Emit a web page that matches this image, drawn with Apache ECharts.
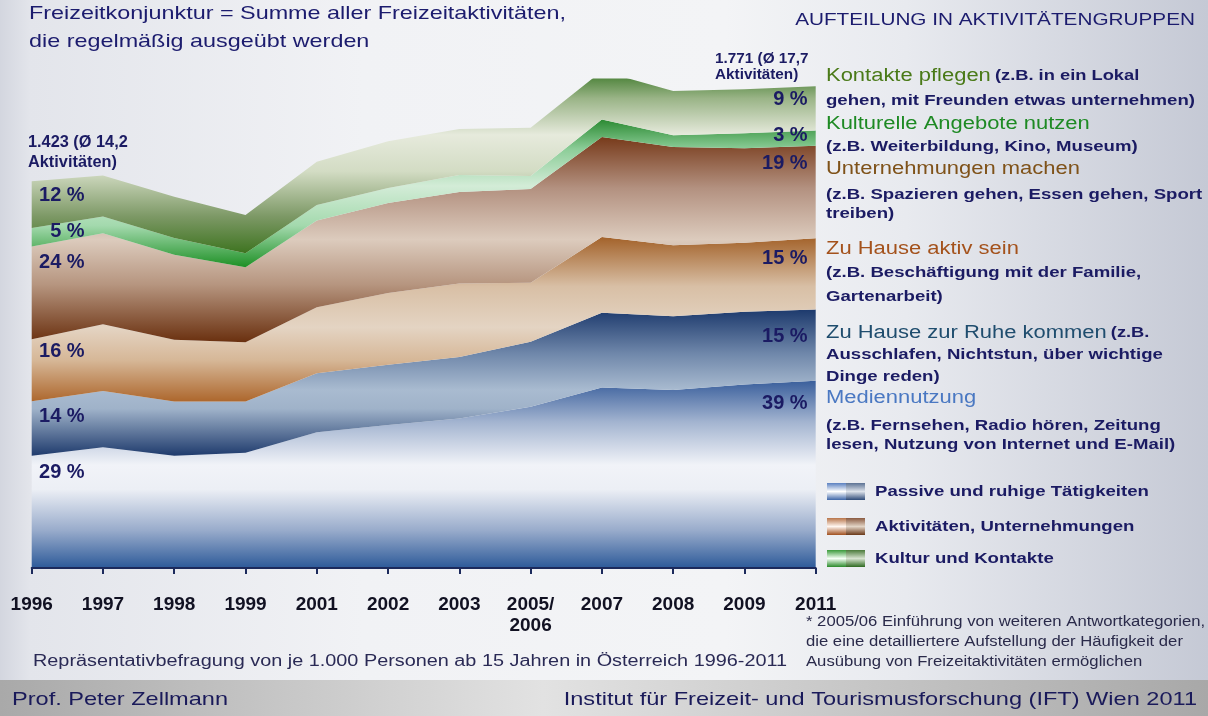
<!DOCTYPE html>
<html><head><meta charset="utf-8">
<script src="https://cdn.jsdelivr.net/npm/echarts@6/dist/echarts.min.js"></script>
<style>html,body{margin:0;padding:0;background:#fff}#c{width:1208px;height:716px}</style>
</head><body><div id="c"></div>
<script>
// ---- data (sum of activities per 100 persons, stacked) ----
const years = ['1996','1997','1998','1999','2001','2002','2003','2005/\n2006','2007','2008','2009','2011'];
const medien   = [413, 444, 413, 424, 499, 526, 550, 593, 664, 654, 675, 688];
const ruhe     = [200, 207, 199, 188, 217, 221, 226, 239, 274, 272, 267, 262];
const aktiv    = [228, 245, 227, 218, 243, 264, 270, 217, 279, 261, 254, 262];
const untern   = [341, 335, 313, 276, 319, 331, 336, 344, 368, 361, 347, 340];
const kultur   = [68, 61, 61, 51, 57, 55, 63, 48, 64, 43, 55, 56];
const kontakte = [172, 151, 152, 141, 159, 172, 169, 178, 178, 163, 162, 163];
const seriesNames = ['Mediennutzung','Zu Hause zur Ruhe kommen','Zu Hause aktiv sein','Unternehmungen machen','Kulturelle Angebote nutzen','Kontakte pflegen'];
const pct1996 = ['29 %','14 %','16 %','24 %','5 %','12 %'];
const pct2011 = ['39 %','15 %','15 %','19 %','3 %','9 %'];
const totalStart = '1.423 (Ø 14,2';
const totalEnd = '1.771 (Ø 17,7';

const FONT = '"Liberation Sans", Arial, sans-serif';
const NAVY = '#1b1b63';
const chart = echarts.init(document.getElementById('c'), null, {renderer:'canvas'});
const G = (stops) => new echarts.graphic.LinearGradient(0,0,0,1, stops.map((c)=>({offset:c[0], color:c[1]})));

const styles = [
  {grad:[[0,'#3a5f9c'],[0.22,'#a3b4d0'],[0.45,'#f1f3f8'],[0.58,'#eceff5'],[0.8,'#98abcb'],[1,'#2d5a99']], lo:[53,17], ro:[-8,23]},
  {grad:[[0,'#1d3a6d'],[0.3,'#6f87aa'],[0.55,'#a9bbd0'],[0.68,'#9fb2c9'],[1,'#1f3b6d']], lo:[53,15], ro:[-8,27]},
  {grad:[[0,'#a3622a'],[0.3,'#d8bfa5'],[0.55,'#e4d4c3'],[0.75,'#d6b797'],[1,'#ad672d']], lo:[53,12], ro:[-8,20]},
  {grad:[[0,'#773a1a'],[0.25,'#b39180'],[0.5,'#dccbbd'],[0.72,'#b6957f'],[1,'#6a300f']], lo:[53,16], ro:[-8,18]},
  {grad:[[0,'#2b8a32'],[0.2,'#8ccd98'],[0.45,'#d3ecd7'],[0.72,'#a3d9ad'],[1,'#1e9025']], lo:[53,4], ro:[-8,5]},
  {grad:[[0,'#3c7829'],[0.15,'#9ab487'],[0.35,'#e6eadc'],[0.55,'#d3dcc4'],[0.8,'#7c9865'],[1,'#3e7420']], lo:[53,14.5], ro:[-8,13]}
];
const dataSets = [medien, ruhe, aktiv, untern, kultur, kontakte];
const labelBase = {show:true, fontFamily:FONT, fontSize:20, fontWeight:'bold', color:NAVY, verticalAlign:'middle', align:'right'};

const series = dataSets.map((arr, s) => ({
  name: seriesNames[s], type:'line', stack:'total', smooth:false,
  symbol:'circle', symbolSize:0.1, showSymbol:true, showAllSymbol:true,
  itemStyle:{color:'rgba(0,0,0,0)'},
  lineStyle:{width:0},
  areaStyle:{color:G(styles[s].grad), opacity:1},
  emphasis:{disabled:true},
  data: arr.map((v,i) => {
    if (i === 0) return {value:v, label:Object.assign({}, labelBase, {formatter:pct1996[s], position:styles[s].lo})};
    if (i === arr.length-1) return {value:v, label:Object.assign({}, labelBase, {formatter:pct2011[s], position:styles[s].ro})};
    return v;
  }),
  z: 2
}));

function txt(x, y, text, font, fill, align, sx){
  return {type:'text', x:x, y:y, scaleX:sx||1, silent:true, z:10,
    style:{text:text, font:font, fill:fill, align:align||'left', verticalAlign:'middle'}};
}
const SX = 1.22;
function rich(x, y, text){
  return {type:'text', x:x, y:y, scaleX:SX, silent:true, z:10, style:{text:text, align:'left', verticalAlign:'middle',
    rich:{
      ko:{fontFamily:FONT, fontSize:18, fill:'#4a7a18'},
      ku:{fontFamily:FONT, fontSize:18, fill:'#1e8a24'},
      un:{fontFamily:FONT, fontSize:18, fill:'#7f5219'},
      ak:{fontFamily:FONT, fontSize:18, fill:'#a4521c'},
      ru:{fontFamily:FONT, fontSize:18, fill:'#1f4d6e'},
      me:{fontFamily:FONT, fontSize:18, fill:'#4a78c2'},
      d:{fontFamily:FONT, fontSize:15, fontWeight:'bold', fill:NAVY}
    }}};
}
function icon(x, y, l, r){
  return [
    {type:'rect', silent:true, z:10, shape:{x:x, y:y, width:19, height:17}, style:{fill:G(l)}},
    {type:'rect', silent:true, z:10, shape:{x:x+19, y:y, width:19, height:17}, style:{fill:G(r)}}
  ];
}
const D = 'bold 15px ' + FONT;
const d = (x, y, t) => txt(x, y, t, D, NAVY, 'left', 1.24);
const graphics = [
  {type:'rect', silent:true, z:-10, shape:{x:0,y:0,width:1208,height:716},
    style:{fill:new echarts.graphic.LinearGradient(0,0,1,0,[
      {offset:0,color:'#d3d6df'},{offset:0.025,color:'#e3e5eb'},{offset:0.3,color:'#f1f2f5'},
      {offset:0.6,color:'#f3f4f6'},{offset:0.75,color:'#e8eaef'},{offset:1,color:'#c5c9d5'}])}},
  {type:'rect', silent:true, z:-9, shape:{x:0,y:680,width:1208,height:36},
    style:{fill:new echarts.graphic.LinearGradient(0,0,1,0,[
      {offset:0,color:'#a9a9a9'},{offset:0.45,color:'#e2e2e2'},{offset:1,color:'#a8a8a8'}])}},
  txt(29, 14, 'Freizeitkonjunktur = Summe aller Freizeitaktivitäten,', '19px '+FONT, '#1c1c6e', 'left', 1.23),
  txt(29, 42, 'die regelmäßig ausgeübt werden', '19px '+FONT, '#1c1c6e', 'left', 1.23),
  txt(1195, 20, 'AUFTEILUNG IN AKTIVITÄTENGRUPPEN', '17px '+FONT, '#1c1c6e', 'right', 1.22),
  txt(28, 143, totalStart, 'bold 16px '+FONT, NAVY, 'left', 1.02),
  txt(28, 163, 'Aktivitäten)', 'bold 16px '+FONT, NAVY, 'left', 1.02),
  txt(715, 59, totalEnd, 'bold 15px '+FONT, NAVY, 'left', 1.02),
  txt(715, 75, 'Aktivitäten)', 'bold 15px '+FONT, NAVY, 'left', 1.02),
  rich(826, 76, '{ko|Kontakte pflegen} {d|(z.B. in ein Lokal}'),
  d(826, 101, 'gehen, mit Freunden etwas unternehmen)'),
  rich(826, 124, '{ku|Kulturelle Angebote nutzen}'),
  d(826, 147, '(z.B. Weiterbildung, Kino, Museum)'),
  rich(826, 169, '{un|Unternehmungen machen}'),
  d(826, 195, '(z.B. Spazieren gehen, Essen gehen, Sport'),
  d(826, 214, 'treiben)'),
  rich(826, 249, '{ak|Zu Hause aktiv sein}'),
  d(826, 273, '(z.B. Beschäftigung mit der Familie,'),
  d(826, 297, 'Gartenarbeit)'),
  rich(826, 333, '{ru|Zu Hause zur Ruhe kommen} {d|(z.B.}'),
  d(826, 355, 'Ausschlafen, Nichtstun, über wichtige'),
  d(826, 377, 'Dinge reden)'),
  rich(826, 398, '{me|Mediennutzung}'),
  d(826, 426, '(z.B. Fernsehen, Radio hören, Zeitung'),
  d(826, 445, 'lesen, Nutzung von Internet und E-Mail)'),
  ...icon(827, 483, [[0,'#5a80c0'],[0.5,'#ffffff'],[1,'#3e66a8']], [[0,'#5c7294'],[0.5,'#dde2ea'],[1,'#2e4a78']]),
  ...icon(827, 518, [[0,'#b8754a'],[0.5,'#fff6f0'],[1,'#a0501f']], [[0,'#8a5a40'],[0.5,'#e2d4c6'],[1,'#6a3818']]),
  ...icon(827, 550, [[0,'#3a9a3a'],[0.5,'#f4fff4'],[1,'#2a8a2a']], [[0,'#4a7a3a'],[0.5,'#d6e2cf'],[1,'#2e6a20']]),
  d(875, 492, 'Passive und ruhige Tätigkeiten'),
  d(875, 527, 'Aktivitäten, Unternehmungen'),
  d(875, 559, 'Kultur und Kontakte'),
  txt(806, 622, '* 2005/06 Einführung von weiteren Antwortkategorien,', '14px '+FONT, '#2a2a4a', 'left', 1.19),
  txt(806, 642, 'die eine detailliertere Aufstellung der Häufigkeit der', '14px '+FONT, '#2a2a4a', 'left', 1.19),
  txt(806, 662, 'Ausübung von Freizeitaktivitäten ermöglichen', '14px '+FONT, '#2a2a4a', 'left', 1.19),
  txt(33, 662, 'Repräsentativbefragung von je 1.000 Personen ab 15 Jahren in Österreich 1996-2011', '16px '+FONT, '#2a2a55', 'left', 1.24),
  txt(12, 700, 'Prof. Peter Zellmann', '19px '+FONT, '#1a1a5a', 'left', 1.24),
  txt(1197, 700, 'Institut für Freizeit- und Tourismusforschung (IFT) Wien 2011', '19px '+FONT, '#1a1a5a', 'right', 1.24)
];

chart.setOption({
  animation:false,
  backgroundColor:'transparent',
  grid:{left:31.7, right:392.3, top:78.4, bottom:148, containLabel:false},
  xAxis:{type:'category', data:years, boundaryGap:false,
    axisLine:{show:true, lineStyle:{color:'#1c2a5c', width:2}},
    axisTick:{show:true, length:6, alignWithLabel:true, lineStyle:{color:'#1c2a5c', width:2}},
    axisLabel:{margin:26, interval:0, fontFamily:FONT, fontSize:19, fontWeight:'bold', color:'#111122', lineHeight:21},
    splitLine:{show:false}, z:5},
  yAxis:{type:'value', min:0, max:1800, show:false, splitLine:{show:false}},
  series:series,
  graphic:graphics,
  tooltip:{show:false}
});
</script></body></html>
